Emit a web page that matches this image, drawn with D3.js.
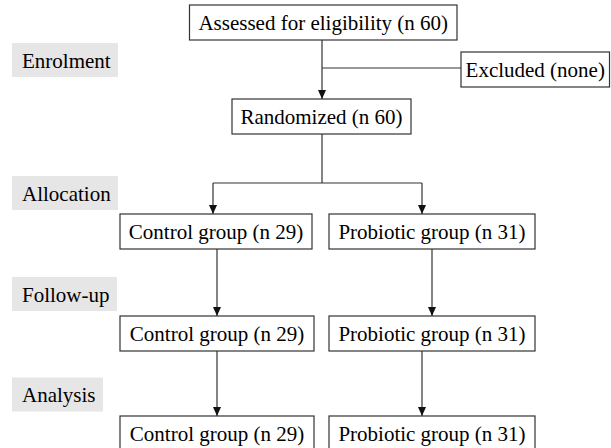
<!DOCTYPE html>
<html>
<head>
<meta charset="utf-8">
<script src="https://cdn.jsdelivr.net/npm/d3@7"></script>
</head>
<body style="margin:0">
<svg id="chart" width="611" height="448"></svg>
<script>
// stages shown on the left, and the numbers in each box
const stages = ["Enrolment", "Allocation", "Follow-up", "Analysis"];
const groups = ["Control group", "Probiotic group"];
const assessed = 60;
const excluded = "none";
const randomized = 60;
const groupCounts = {
  allocation: [29, 31],
  followUp: [29, 31],
  analysis: [29, 31]
};

const svg = d3.select("#chart");
const fontSize = 20.8;
const lineColor = "#333";

// arrow head
svg.append("defs").append("marker")
  .attr("id", "arrow")
  .attr("viewBox", "0 0 9 8")
  .attr("refX", 9).attr("refY", 4)
  .attr("markerWidth", 9).attr("markerHeight", 8)
  .attr("markerUnits", "userSpaceOnUse")
  .attr("orient", "auto")
  .append("path")
  .attr("d", "M0,0 L9,4 L0,8 Z")
  .attr("fill", "#111");

// row positions (top of boxes)
const y = d3.scaleOrdinal()
  .domain(["assessed", "excluded", "randomized", "allocation", "followUp", "analysis"])
  .range([5, 52, 99, 214, 316, 416]);
const boxH = 35;

const boxes = [
  { key: "assessed", label: `Assessed for eligibility (n ${assessed})`, x0: 189.5, x1: 457 },
  { key: "excluded", label: `Excluded (${excluded})`, x0: 461, x1: 609.5 },
  { key: "randomized", label: `Randomized (n ${randomized})`, x0: 232, x1: 411 }
];
const cols = {
  allocation: [[120, 312], [329, 535]],
  followUp: [[120, 314], [329, 535]],
  analysis: [[120, 314], [329, 535]]
};
Object.keys(groupCounts).forEach(k => {
  groupCounts[k].forEach((n, i) => {
    boxes.push({ key: k, label: `${groups[i]} (n ${n})`, x0: cols[k][i][0], x1: cols[k][i][1] });
  });
});

// stage labels on grey background
const stageYs = d3.scaleOrdinal().domain(stages).range([60, 193, 294, 394.5]);
const stageW = d3.scaleOrdinal().domain(stages).range([106, 106, 105, 91]);
svg.selectAll(".stage-bg").data(stages).enter().append("rect")
  .attr("class", "stage-bg")
  .attr("fill", "#e6e6e6")
  .attr("x", 12).attr("y", d => stageYs(d) - 17)
  .attr("width", d => stageW(d)).attr("height", 34);

// connectors
const links = [
  [[322, 40], [322, 99], true],
  [[322, 68], [461, 68], false],
  [[322, 133], [322, 183], false],
  [[213, 183], [422, 183], false],
  [[213, 183], [213, 214], true],
  [[422, 183], [422, 214], true],
  [[217, 249], [217, 316], true],
  [[432, 249], [432, 316], true],
  [[217, 351], [217, 416], true],
  [[422, 351], [422, 416], true]
];
svg.selectAll(".link").data(links).enter().append("line")
  .attr("class", "link")
  .attr("x1", d => d[0][0]).attr("y1", d => d[0][1])
  .attr("x2", d => d[1][0]).attr("y2", d => d[1][1])
  .attr("stroke", lineColor).attr("stroke-width", 1.2)
  .attr("marker-end", d => d[2] ? "url(#arrow)" : null);

// boxes
svg.selectAll(".box").data(boxes).enter().append("rect")
  .attr("class", "box")
  .attr("x", d => d.x0).attr("y", d => y(d.key))
  .attr("width", d => d.x1 - d.x0).attr("height", boxH)
  .attr("fill", "#fff").attr("stroke", lineColor).attr("stroke-width", 1.2);

// all text, straight under the svg
const labels = stages.map(s => ({ text: s, x: 22, y: stageYs(s) + 7.5, anchor: "start" }))
  .concat(boxes.map(b => ({ text: b.label, x: (b.x0 + b.x1) / 2, y: y(b.key) + boxH / 2 + 7, anchor: "middle" })));
svg.selectAll("text").data(labels).enter().append("text")
  .attr("x", d => d.x).attr("y", d => d.y)
  .attr("font-size", 21)
  .attr("text-anchor", d => d.anchor)
  .style("font-family", d => "'Liberation Serif'")
  .text(d => d.text);
</script>
</body>
</html>
